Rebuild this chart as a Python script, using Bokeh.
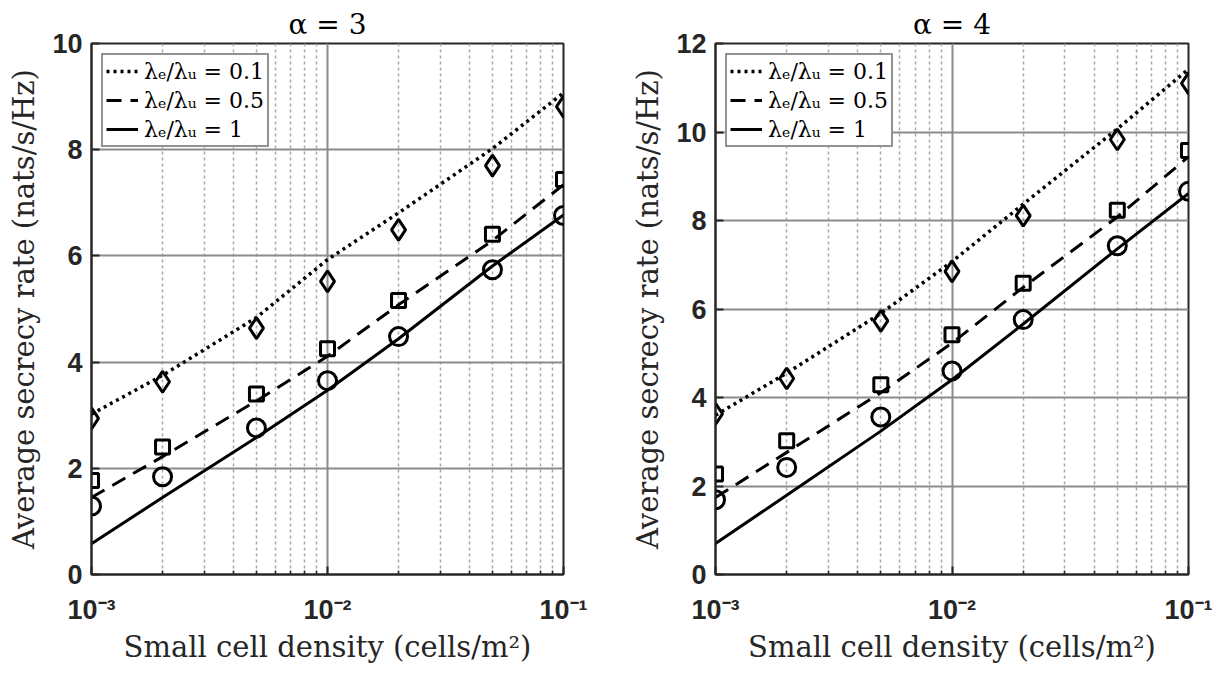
from bokeh.plotting import figure
from bokeh.layouts import row
from bokeh.models import (FixedTicker, CustomJSTickFormatter, Legend, LegendItem,
                          SingleIntervalTicker, Range1d)
from bokeh.embed import file_html
from bokeh.resources import INLINE

# ---------------- data ----------------
density = [1e-3, 2e-3, 5e-3, 1e-2, 2e-2, 5e-2, 1e-1]
ratio_labels = ["λₑ/λᵤ = 0.1", "λₑ/λᵤ = 0.5", "λₑ/λᵤ = 1"]

# alpha = 3 : analytical curves (lines) and simulation (markers)
a3_line_01 = [3.02, 3.75, 4.84, 5.93, 6.81, 8.02, 9.07]
a3_line_05 = [1.45, 2.22, 3.27, 4.11, 5.08, 6.29, 7.34]
a3_line_1 = [0.58, 1.45, 2.58, 3.47, 4.44, 5.81, 6.77]
a3_sim_01 = [2.94, 3.63, 4.64, 5.52, 6.49, 7.70, 8.81]
a3_sim_05 = [1.77, 2.40, 3.40, 4.25, 5.16, 6.41, 7.44]
a3_sim_1 = [1.29, 1.84, 2.76, 3.65, 4.48, 5.74, 6.76]

# alpha = 4
a4_line_01 = [3.60, 4.55, 5.90, 7.07, 8.37, 10.07, 11.42]
a4_line_05 = [1.74, 2.76, 4.11, 5.23, 6.49, 8.08, 9.44]
a4_line_1 = [0.70, 1.79, 3.24, 4.40, 5.66, 7.36, 8.61]
a4_sim_01 = [3.63, 4.43, 5.73, 6.85, 8.11, 9.83, 11.10]
a4_sim_05 = [2.27, 3.02, 4.29, 5.42, 6.58, 8.23, 9.58]
a4_sim_1 = [1.69, 2.42, 3.56, 4.60, 5.76, 7.43, 8.66]

x_major = [1e-3, 1e-2, 1e-1]
x_minor = [m * d for d in (1e-3, 1e-2) for m in range(2, 10)]

DARK = "#262626"
SERIF = "DejaVu Serif"
SANS = "Liberation Sans"

sup_fmt = CustomJSTickFormatter(code="""
const e = Math.round(Math.log10(tick));
const sup = {'-':'\u207b','0':'\u2070','1':'\u00b9','2':'\u00b2','3':'\u00b3','4':'\u2074','5':'\u2075','6':'\u2076','7':'\u2077','8':'\u2078','9':'\u2079'};
return '10' + String(e).split('').map(c => sup[c]).join('');
""")


def make_panel(title, ymax, lines, sims, border_left, border_right):
    p = figure(width=613, height=673, x_axis_type="log",
               x_range=Range1d(1e-3, 1e-1), y_range=Range1d(0, ymax),
               output_backend="svg", toolbar_location=None,
               min_border_left=border_left, min_border_right=border_right,
               min_border_top=43, min_border_bottom=99)
    p.title.text = title
    p.title.align = "center"
    p.title.text_font = SERIF
    p.title.text_font_size = "28px"
    p.title.text_font_style = "normal"
    p.title.text_color = "black"
    p.title.offset = 0
    p.title.standoff = 5

    p.outline_line_color = DARK
    p.outline_line_width = 2
    p.outline_line_alpha = 1

    # axes
    xa = p.xaxis[0]
    xa.ticker = FixedTicker(ticks=x_major, minor_ticks=x_minor)
    xa.formatter = sup_fmt
    ya = p.yaxis[0]
    ya.ticker = SingleIntervalTicker(interval=2, num_minor_ticks=0)
    for ax in (xa, ya):
        ax.axis_line_color = DARK
        ax.axis_line_width = 2
        ax.major_tick_line_color = DARK
        ax.major_tick_line_width = 2
        ax.major_tick_in = 8
        ax.major_tick_out = 0
        ax.minor_tick_line_color = DARK
        ax.minor_tick_line_width = 1.5
        ax.minor_tick_in = 4
        ax.minor_tick_out = 0
        ax.major_label_text_font = SANS
        ax.major_label_text_font_style = "bold"
        ax.major_label_text_font_size = "27px"
        ax.major_label_text_color = DARK
        ax.axis_label_text_font = SERIF
        ax.axis_label_text_font_style = "normal"
        ax.axis_label_text_font_size = "29px"
        ax.axis_label_text_color = DARK
    ya.minor_tick_in = 0
    xa.major_label_standoff = 20
    xa.axis_label_standoff = 2
    ya.major_label_standoff = 9
    ya.axis_label_standoff = 8
    xa.axis_label = "Small cell density (cells/m²)"
    ya.axis_label = "Average secrecy rate (nats/s/Hz)"

    # grids
    p.xgrid.grid_line_color = "#8c8c8c"
    p.xgrid.grid_line_width = 2
    p.xgrid.minor_grid_line_color = "#a8a8a8"
    p.xgrid.minor_grid_line_dash = "3 3"
    p.xgrid.minor_grid_line_width = 1.5
    p.ygrid.grid_line_color = "#8c8c8c"
    p.ygrid.grid_line_width = 2

    dashes = ["3 4", "15 9", "solid"]
    widths = [3.5, 3, 3]
    renderers = []
    for ys, dash, w in zip(lines, dashes, widths):
        r = p.line(density, ys, line_color="black", line_width=w, line_dash=dash)
        renderers.append(r)

    markers = ["diamond", "square", "circle"]
    sizes = [21, 14, 18]
    for ys, mk, sz in zip(sims, markers, sizes):
        p.scatter(density, ys, marker=mk, size=sz, fill_color=None,
                  line_color="black", line_width=3)

    legend = Legend(items=[LegendItem(label=lab, renderers=[r])
                           for lab, r in zip(ratio_labels, renderers)],
                    location="top_left")
    legend.margin = 10
    legend.padding = 3
    legend.spacing = 3
    legend.glyph_width = 32
    legend.glyph_height = 26
    legend.label_height = 26
    legend.label_standoff = 6
    legend.label_text_font = SERIF
    legend.label_text_font_size = "22px"
    legend.label_text_color = "black"
    legend.border_line_color = DARK
    legend.border_line_width = 2
    legend.background_fill_color = "white"
    legend.background_fill_alpha = 1
    p.add_layout(legend, "center")
    return p


p1 = make_panel("α = 3", 10,
                [a3_line_01, a3_line_05, a3_line_1],
                [a3_sim_01, a3_sim_05, a3_sim_1], 91, 50)
p2 = make_panel("α = 4", 12,
                [a4_line_01, a4_line_05, a4_line_1],
                [a4_sim_01, a4_sim_05, a4_sim_1], 102, 38)

layout = row(p1, p2)
open("out.html", "w").write(file_html(layout, INLINE))
